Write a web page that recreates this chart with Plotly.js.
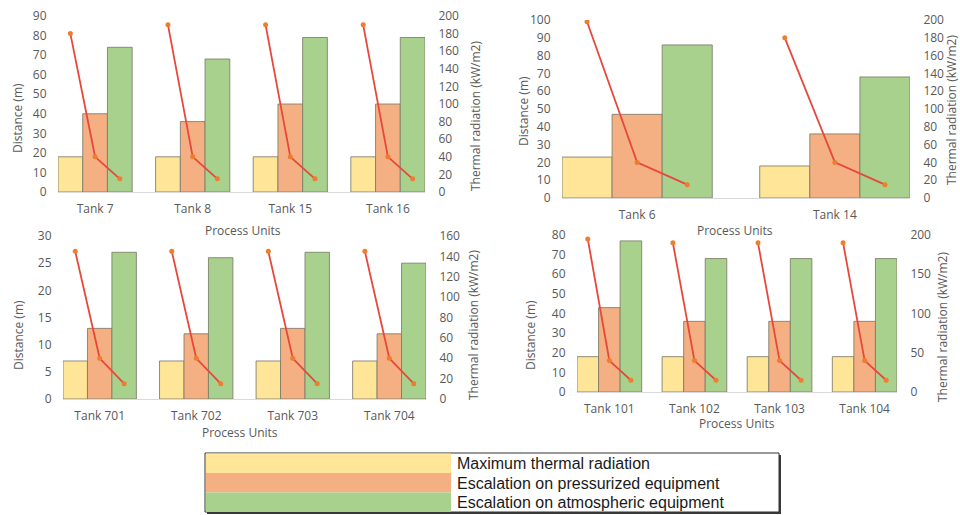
<!DOCTYPE html>
<html>
<head>
<meta charset="utf-8">
<script src="https://cdn.plot.ly/plotly-3.0.1.min.js"></script>
<style>
  html, body { margin: 0; padding: 0; background: #fff; }
  #chart { width: 960px; height: 515px; }
</style>
</head>
<body>
<div id="chart"></div>
<script>
// ---------- DATA ----------
const seriesNames = ['Maximum thermal radiation', 'Escalation on pressurized equipment', 'Escalation on atmospheric equipment'];

// Panel 1
const cats1 = ['Tank 7', 'Tank 8', 'Tank 15', 'Tank 16'];
const maxRad1 = [18, 18, 18, 18];
const press1 = [40, 36, 45, 45];
const atmos1 = [74, 68, 79, 79];
const radTop1 = [180, 190, 190, 190];
const radMid1 = [40, 40, 40, 40];
const radLow1 = [15, 15, 15, 15];

// Panel 2
const cats2 = ['Tank 6', 'Tank 14'];
const maxRad2 = [23, 18];
const press2 = [47, 36];
const atmos2 = [86, 68];
const radTop2 = [198, 180];
const radMid2 = [40, 40];
const radLow2 = [15, 15];

// Panel 3
const cats3 = ['Tank 701', 'Tank 702', 'Tank 703', 'Tank 704'];
const maxRad3 = [7, 7, 7, 7];
const press3 = [13, 12, 13, 12];
const atmos3 = [27, 26, 27, 25];
const radTop3 = [145, 145, 145, 145];
const radMid3 = [40, 40, 40, 40];
const radLow3 = [15, 15, 15, 15];

// Panel 4
const cats4 = ['Tank 101', 'Tank 102', 'Tank 103', 'Tank 104'];
const maxRad4 = [18, 18, 18, 18];
const press4 = [43, 36, 36, 36];
const atmos4 = [77, 68, 68, 68];
const radTop4 = [195, 190, 190, 190];
const radMid4 = [40, 40, 40, 40];
const radLow4 = [15, 15, 15, 15];

// ---------- STYLE ----------
const W = 960, H = 515;
const px = x => x / W;
const py = y => 1 - y / H;
const colors = ['#FFE597', '#F4AF82', '#A8D18D'];
const barLine = { color: 'rgba(125,125,105,0.85)', width: 1 };
const lineColor = '#E8473B';
const markerColor = '#EE7D30';
const bargap = 0.24;
const FONT = 'Open Sans, Liberation Sans, sans-serif';
const textColor = '#595959';

const panels = [
  { cats: cats1, series: [maxRad1, press1, atmos1], rad: [radTop1, radMid1, radLow1],
    xpx: [58, 425], ypx: [16, 192], yl: [0, 90], dl: 10, yr: [0, 200], dr: 20 },
  { cats: cats2, series: [maxRad2, press2, atmos2], rad: [radTop2, radMid2, radLow2],
    xpx: [562, 910], ypx: [20, 198], yl: [0, 100], dl: 10, yr: [0, 200], dr: 20 },
  { cats: cats3, series: [maxRad3, press3, atmos3], rad: [radTop3, radMid3, radLow3],
    xpx: [63, 426], ypx: [236, 399], yl: [0, 30], dl: 5, yr: [0, 160], dr: 20 },
  { cats: cats4, series: [maxRad4, press4, atmos4], rad: [radTop4, radMid4, radLow4],
    xpx: [577, 897], ypx: [235, 392], yl: [0, 80], dl: 10, yr: [0, 200], dr: 50 }
];

const traces = [];
const layout = {
  width: W, height: H,
  margin: { l: 0, r: 0, t: 0, b: 0 },
  paper_bgcolor: '#ffffff', plot_bgcolor: 'rgba(0,0,0,0)',
  showlegend: false,
  barmode: 'group', bargap: bargap, bargroupgap: 0,
  font: { family: FONT, color: textColor, size: 12 },
  annotations: [], shapes: []
};

panels.forEach((p, k) => {
  const n = k + 1;
  const xa = 'x' + (n === 1 ? '' : n);
  const yaL = 'y' + (2 * n - 1 === 1 ? '' : 2 * n - 1);
  const yaR = 'y' + (2 * n);
  const idx = p.cats.map((_, i) => i);
  p.series.forEach((vals, j) => {
    traces.push({
      type: 'bar', x: idx, y: vals, name: seriesNames[j],
      xaxis: xa, yaxis: yaL,
      marker: { color: colors[j], line: barLine },
      hoverinfo: 'y'
    });
  });
  // line: each tank has its own 3-point segment at the bar centres
  const bw = (1 - bargap) / 3;
  const lx = [], ly = [];
  idx.forEach(i => {
    for (let j = 0; j < 3; j++) {
      lx.push(i + (j - 1) * bw);
      ly.push(p.rad[j][i]);
    }
    lx.push(null); ly.push(null);
  });
  traces.push({
    type: 'scatter', mode: 'lines+markers', x: lx, y: ly,
    xaxis: xa, yaxis: yaR, connectgaps: false,
    line: { color: lineColor, width: 1.8 },
    marker: { color: markerColor, size: 5 },
    hoverinfo: 'y'
  });

  const nC = p.cats.length;
  const dom = [px(p.xpx[0]), px(p.xpx[1])];
  const ydom = [py(p.ypx[1]), py(p.ypx[0])];
  const pad = 0.38;
  layout['xaxis' + (n === 1 ? '' : n)] = {
    domain: dom, anchor: yaL, type: 'linear',
    range: [-pad, nC - 1 + pad],
    tickvals: idx, ticktext: p.cats,
    showgrid: false, zeroline: false,
    showline: true, linecolor: '#d9d9d9', linewidth: 1,
    ticks: 'outside', ticklen: 6, tickcolor: 'rgba(0,0,0,0)',
    tickfont: { family: FONT, size: 12, color: textColor },
    fixedrange: true
  };
  layout['yaxis' + (2 * n - 1 === 1 ? '' : 2 * n - 1)] = {
    domain: ydom, anchor: xa, range: p.yl, dtick: p.dl,
    showgrid: false, zeroline: false, showline: false,
    ticks: 'outside', ticklen: 8, tickcolor: 'rgba(0,0,0,0)',
    tickfont: { family: FONT, size: 12, color: textColor },
    fixedrange: true
  };
  layout['yaxis' + (2 * n)] = {
    overlaying: yaL, side: 'right', anchor: xa, range: p.yr, dtick: p.dr,
    showgrid: false, zeroline: false, showline: false,
    ticks: 'outside', ticklen: 10, tickcolor: 'rgba(0,0,0,0)',
    tickfont: { family: FONT, size: 12, color: textColor },
    fixedrange: true
  };
});

// axis titles & "Process Units"
const titleFont = { family: FONT, size: 12, color: textColor };
const ann = (x, y, text, angle, extra) => Object.assign({
  x: px(x), y: py(y), xref: 'paper', yref: 'paper', text: text,
  showarrow: false, textangle: angle || 0, font: titleFont,
  xanchor: 'center', yanchor: 'middle'
}, extra || {});
layout.annotations.push(
  ann(18, 118, 'Distance (m)', -90),
  ann(475, 116, 'Thermal radiation (kW/m2)', -90),
  ann(243, 230, 'Process Units', 0),
  ann(523, 111, 'Distance (m)', -90),
  ann(951, 110, 'Thermal radiation (kW/m2)', -90),
  ann(735, 230, 'Process Units', 0),
  ann(18, 335, 'Distance (m)', -90),
  ann(473, 325, 'Thermal radiation (kW/m2)', -90),
  ann(240, 432, 'Process Units', 0),
  ann(530, 335, 'Distance (m)', -90),
  ann(942, 327, 'Thermal radiation (kW/m2)', -90),
  ann(737, 423, 'Process Units', 0)
);

// custom legend box
const rect = (x0, y0, x1, y1, fill, line) => ({
  type: 'rect', xref: 'paper', yref: 'paper',
  x0: px(x0), x1: px(x1), y0: py(y1), y1: py(y0),
  fillcolor: fill, line: line || { width: 0 }, layer: 'above'
});
layout.shapes.push(
  rect(207, 455, 781, 514, '#3a3a3a'),
  rect(205, 453, 779, 512, '#ffffff', { color: '#333333', width: 1 })
);
const rowTops = [453.5, 473, 492.5];
rowTops.forEach((t, j) => {
  layout.shapes.push(rect(206, t, 451, t + 19.5, colors[j]));
  layout.annotations.push({
    x: px(455), y: py(t + 10), xref: 'paper', yref: 'paper',
    text: seriesNames[j], showarrow: false, xanchor: 'left', yanchor: 'middle',
    font: { family: 'Liberation Sans, Arial, sans-serif', size: 16, color: '#1a1a1a' }
  });
});

Plotly.newPlot('chart', traces, layout, { displayModeBar: false, staticPlot: true });
</script>
</body>
</html>
